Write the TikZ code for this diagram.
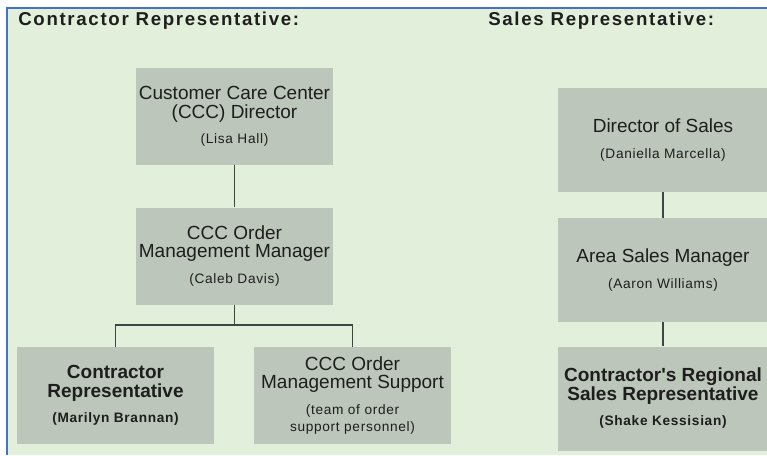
\documentclass[tikz,border=0pt]{standalone}
\usepackage{fontspec}
\setmainfont{Liberation Sans}
\newfontfamily\headfont{Liberation Sans}[LetterSpace=9]
\newfontfamily\notefont{Liberation Sans}[LetterSpace=5]

\definecolor{bggreen}{HTML}{E2EFDA}
\definecolor{boxgray}{HTML}{BCC6BA}
\definecolor{frameblue}{HTML}{4472C4}
\definecolor{linkgray}{HTML}{3D4641}
\definecolor{ink}{HTML}{1E1E1E}

% body text of the boxes and the smaller name lines
\newcommand\boxtxt{\fontsize{14.25}{13.75}\selectfont}
\newcommand\nametxt{\notefont\fontsize{10.25}{13.75}\selectfont}

\begin{document}
\begin{tikzpicture}[x=0.75pt, y=-0.75pt,
  orgbox/.style={fill=boxgray, inner sep=0pt, align=center, font=\boxtxt, text=ink},
  boldbox/.style={orgbox, font=\boxtxt\bfseries},
  leftsize/.style={minimum width=197*0.75pt, minimum height=97*0.75pt},
  rightsize/.style={minimum width=210*0.75pt, minimum height=104*0.75pt},
  link/.style={draw=linkgray, line width=1.8*0.75pt},
  heading/.style={anchor=base west, inner sep=0pt, text=ink,
    font=\headfont\bfseries\fontsize{14}{15}\selectfont}]

\useasboundingbox (0,0) rectangle (767,455);
\fill[white] (0,0) rectangle (767,455);
\fill[bggreen] (7,7.5) rectangle (767,455);
\draw[frameblue, line width=1.5pt] (7,455) -- (7,7.5) -- (767,7.5);

% column headings
\node[heading] (hcon) at (18,25) {Contractor Representative:};
\node[heading] (hsal) at (488,25) {Sales Representative:};

% contractor side
\node[orgbox, leftsize] (ccc) at (234.5,116.5)
  {Customer Care Center\\(CCC) Director\\[5.5pt]\nametxt (Lisa Hall)};
\node[orgbox, leftsize] (mgr) at (234.5,256)
  {CCC Order\\Management Manager\\[5.5pt]\nametxt (Caleb Davis)};
\node[boldbox, leftsize] (crep) at (115.5,395.5)
  {Contractor\\Representative\\[5.5pt]\nametxt (Marilyn Brannan)};
\node[orgbox, leftsize] (sup) at (352.5,395.5)
  {CCC Order\\Management Support\\[5.5pt]\nametxt (team of order\\[-0.75pt]\nametxt support personnel)};

% sales side
\node[orgbox, rightsize] (dos) at (663,140)
  {Director of Sales\\[5.5pt]\nametxt (Daniella Marcella)};
\node[orgbox, rightsize] (asm) at (663,270)
  {Area Sales Manager\\[5.5pt]\nametxt (Aaron Williams)};
\node[boldbox, rightsize] (reg) at (663,398.5)
  {Contractor\textquotesingle s Regional\\Sales Representative\\[5.5pt]\nametxt (Shake Kessisian)};

% reporting lines
\draw[link] (ccc.south) -- (mgr.north);
\draw[link] (mgr.south) -- ++(0,20) coordinate (fork) -| (crep.north);
\draw[link] (fork) -| (sup.north);
\draw[link] (dos.south) -- (asm.north);
\draw[link] (asm.south) -- (reg.north);
\end{tikzpicture}
\end{document}
